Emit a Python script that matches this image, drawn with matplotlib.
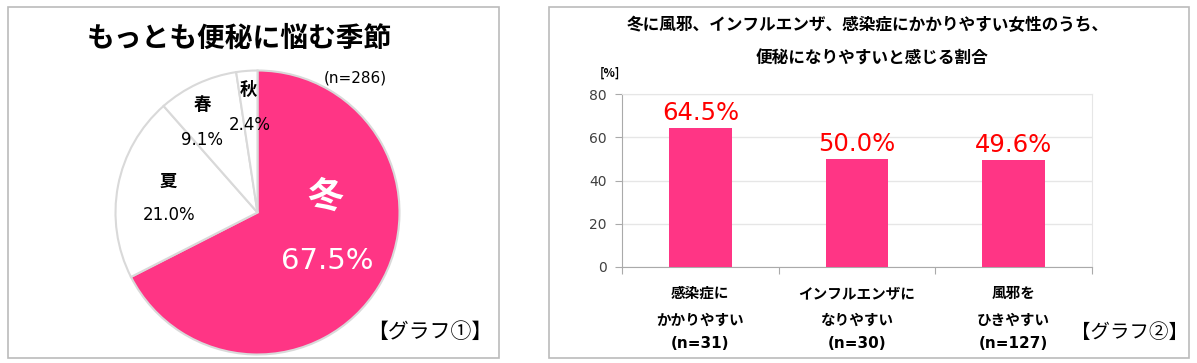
import matplotlib
matplotlib.use("Agg")
import matplotlib.pyplot as plt
from matplotlib.patches import Rectangle

plt.rcParams['font.family'] = ['Noto Sans CJK JP', 'DejaVu Sans']

# data
seasons = ['冬', '夏', '春', '秋']
season_pct = [67.5, 21.0, 9.1, 2.4]
n_total = 286

bar_labels = ['感染症に\nかかりやすい', 'インフルエンザに\nなりやすい', '風邪を\nひきやすい']
bar_n = [31, 30, 127]
bar_values = [64.5, 50.0, 49.6]
y_ticks = [0, 20, 40, 60, 80]

PINK = '#FF3585'
NUM = ['DejaVu Sans']
W, H = 1197, 363

fig = plt.figure(figsize=(W / 100, H / 100), dpi=100)


def px(x, y):
    return x / W, 1 - y / H


# panel frames
for x0, x1 in [(8, 499), (549, 1189)]:
    fig.patches.append(Rectangle((x0 / W, 1 - 358 / H), (x1 - x0) / W, 351 / H,
                                 transform=fig.transFigure, fill=False,
                                 edgecolor='#BBBBBB', lw=1.2))

# ---- pie ----
cx, cy, r = 257.5, 212.5, 142
ax1 = fig.add_axes([(cx - r) / W, (H - cy - r) / H, 2 * r / W, 2 * r / H])
colors = [PINK, 'white', 'white', 'white']
ax1.pie(season_pct, colors=colors, startangle=90, counterclock=False,
        wedgeprops=dict(edgecolor='#D9D9D9', linewidth=1.5))
ax1.set_xlim(-1, 1)
ax1.set_ylim(-1, 1)

fig.text(*px(239, 39), 'もっとも便秘に悩む季節', fontsize=20, fontweight='bold',
         ha='center', va='center')
fig.text(*px(355, 78), f'(n={n_total})', fontsize=11, family=NUM, ha='center', va='center')

# label positions (pixels) for each slice name / percentage
name_pos = [(325, 197), (168, 182), (202, 105), (248, 90)]
pct_pos = [(327, 261), (169, 215), (202, 140), (250, 125)]
for s, v, (nx, ny), (vx, vy) in zip(seasons, season_pct, name_pos, pct_pos):
    if s == '冬':
        fig.text(*px(nx, ny), s, fontsize=26, fontweight='bold', color='white',
                 ha='center', va='center')
        fig.text(*px(vx, vy), f'{v:.1f}%', fontsize=21, family=NUM, color='white',
                 ha='center', va='center')
    else:
        fig.text(*px(nx, ny), s, fontsize=12.5, fontweight='bold', ha='center', va='center')
        fig.text(*px(vx, vy), f'{v:.1f}%', fontsize=12, family=NUM, ha='center', va='center')

fig.text(*px(430, 332), '【グラフ①】', fontsize=15, ha='center', va='center')

# ---- bar chart ----
bx0, bx1, by0, by1 = 622, 1092, 94, 267
ax2 = fig.add_axes([bx0 / W, (H - by1) / H, (bx1 - bx0) / W, (by1 - by0) / H])
xs = list(range(len(bar_values)))
ax2.bar(xs, bar_values, width=0.4, color=PINK, zorder=3)
ax2.set_xlim(-0.5, len(bar_values) - 0.5)
ax2.set_ylim(0, 80)
ax2.set_yticks(y_ticks)
for lab in ax2.get_yticklabels():
    lab.set_family(NUM)
ax2.tick_params(axis='y', labelsize=10, labelcolor='#404040', length=5,
                color='#AAAAAA', pad=6)
ax2.set_xticks([i - 0.5 for i in xs] + [len(xs) - 0.5])
ax2.set_xticklabels([])
ax2.tick_params(axis='x', length=5, color='#AAAAAA', direction='out')
ax2.yaxis.grid(True, color='#E6E6E6', lw=1, zorder=0)
ax2.spines['top'].set_color('#E6E6E6')
ax2.spines['right'].set_color('#E6E6E6')
ax2.spines['left'].set_color('#AAAAAA')
ax2.spines['bottom'].set_color('#AAAAAA')

for x, v in zip(xs, bar_values):
    ax2.text(x, v + 1.2, f'{v:.1f}%', color='#FF0000', fontsize=17.5, family=NUM,
             ha='center', va='bottom')

for x, lab, n in zip(xs, bar_labels, bar_n):
    ax2.text(x, -8.3, lab, fontsize=10.5, fontweight='bold', ha='center', va='top',
             linespacing=1.8, clip_on=False)
    ax2.text(x, -35.5, f'(n={n})', fontsize=11, fontweight='bold', family=NUM,
             ha='center', va='center', clip_on=False)

fig.text(*px(610, 73), '[%]', fontsize=8.5, fontweight='bold', ha='center', va='center')
fig.text(*px(868, 25), '冬に風邪、インフルエンザ、感染症にかかりやすい女性のうち、',
         fontsize=12, fontweight='bold', ha='center', va='center')
fig.text(*px(872, 59), '便秘になりやすいと感じる割合',
         fontsize=12, fontweight='bold', ha='center', va='center')
fig.text(*px(1129, 332), '【グラフ②】', fontsize=14, ha='center', va='center')

fig.savefig('out.png', dpi=100)
